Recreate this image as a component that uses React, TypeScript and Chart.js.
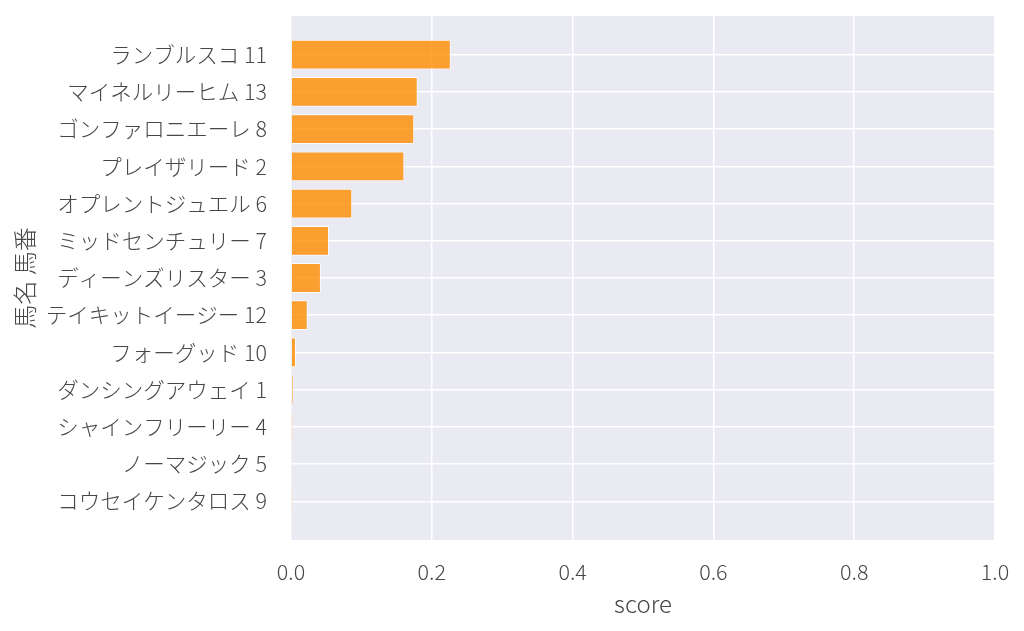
import React, { useEffect, useRef } from "react";
import { Chart, registerables } from "chart.js";

Chart.register(...registerables);

const horseLabels: string[] = [
  "ランブルスコ 11",
  "マイネルリーヒム 13",
  "ゴンファロニエーレ 8",
  "プレイザリード 2",
  "オプレントジュエル 6",
  "ミッドセンチュリー 7",
  "ディーンズリスター 3",
  "テイキットイージー 12",
  "フォーグッド 10",
  "ダンシングアウェイ 1",
  "シャインフリーリー 4",
  "ノーマジック 5",
  "コウセイケンタロス 9",
];

const scores: number[] = [
  0.227, 0.18, 0.175, 0.161, 0.087, 0.054, 0.0425, 0.0237, 0.0071, 0.0033,
  0.0024, 0.0005, 0.0003,
];

const xTicks: number[] = [0, 0.2, 0.4, 0.6, 0.8, 1.0];

const FONT = "'Noto Sans CJK JP Light', 'Noto Sans CJK JP DemiLight', 'Noto Sans CJK JP', 'Noto Sans', sans-serif";
const TEXT = "#474747";

const bgPlugin = {
  id: "plotBg",
  beforeDraw(chart: any) {
    const { ctx, chartArea } = chart;
    if (!chartArea) return;
    ctx.save();
    ctx.fillStyle = "#EAEAF2";
    ctx.fillRect(
      chartArea.left,
      chartArea.top,
      chartArea.right - chartArea.left,
      chartArea.bottom - chartArea.top
    );
    ctx.restore();
  },
};

export default function App() {
  const ref = useRef<HTMLCanvasElement | null>(null);

  useEffect(() => {
    if (!ref.current) return;
    const data = scores.map((v, i) => ({ x: v, y: i }));
    const chart = new Chart(ref.current, {
      type: "bar",
      data: {
        datasets: [
          {
            data: data as any,
            backgroundColor: "rgba(255,140,0,0.8)",
            borderColor: "rgba(255,255,255,0.8)",
            borderWidth: 1,
            barPercentage: 0.8,
            categoryPercentage: 1,
          },
        ],
      },
      options: {
        indexAxis: "y",
        animation: false,
        responsive: false,
        maintainAspectRatio: false,
        layout: { padding: { left: 0, right: 29, top: 16, bottom: 0 } },
        plugins: {
          legend: { display: false },
          tooltip: { enabled: false },
        },
        scales: {
          x: {
            type: "linear",
            min: 0,
            max: 1,
            offset: false,
            border: { display: false },
            grid: { color: "#ffffff", lineWidth: 1.5, drawTicks: false, offset: false },
            afterBuildTicks: (axis: any) => {
              axis.ticks = xTicks.map((v) => ({ value: v }));
            },
            afterFit: (axis: any) => {
              axis.height = 91;
              axis.paddingLeft = 0;
              axis.paddingRight = 0;
            },
            ticks: {
              padding: 19,
              color: TEXT,
              font: { family: FONT, size: 21.5, weight: 300 as any },
              callback: (v: any) => Number(v).toFixed(1),
            },
            title: {
              display: true,
              text: "score",
              color: TEXT,
              font: { family: FONT, size: 24, weight: 300 as any },
              padding: { top: 0, bottom: 13 },
            },
          },
          y: {
            type: "linear",
            reverse: true,
            min: -1.04,
            max: 13.04,
            offset: false,
            border: { display: false },
            grid: { color: "#ffffff", lineWidth: 1.5, drawTicks: false, offset: false },
            afterBuildTicks: (axis: any) => {
              axis.ticks = horseLabels.map((_, i) => ({ value: i }));
            },
            afterFit: (axis: any) => {
              axis.width = 291;
              axis.paddingTop = 0;
              axis.paddingBottom = 0;
            },
            ticks: {
              padding: 24,
              color: TEXT,
              autoSkip: false,
              font: { family: FONT, size: 21.5, weight: 300 as any },
              callback: (v: any) => {
                const i = Math.round(Number(v));
                return i >= 0 && i < horseLabels.length ? horseLabels[i] : "";
              },
            },
            title: {
              display: true,
              text: "馬名 馬番",
              color: TEXT,
              font: { family: FONT, size: 24, weight: 300 as any },
              padding: { top: 10, bottom: 0 },
            },
          },
        },
      } as any,
      plugins: [bgPlugin],
    });
    return () => chart.destroy();
  }, []);

  return (
    <div
      style={{
        position: "fixed",
        left: 0,
        top: 0,
        width: 1024,
        height: 631,
        background: "#ffffff",
      }}
    >
      <canvas ref={ref} width={1024} height={631} style={{ width: 1024, height: 631 }} />
    </div>
  );
}
